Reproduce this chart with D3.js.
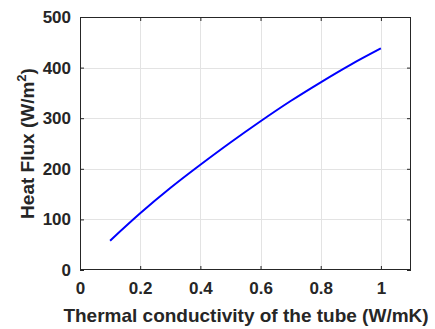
<!DOCTYPE html>
<html>
<head>
<meta charset="utf-8">
<script src="https://cdn.jsdelivr.net/npm/d3@7/dist/d3.min.js"></script>
<style>
  html, body { margin: 0; padding: 0; background: #fff; }
  svg { display: block; }
  text { font-family: "Liberation Sans", Arial, sans-serif; font-weight: bold; fill: #262626; }
</style>
</head>
<body>
<svg id="chart" width="435" height="329"></svg>
<script>
// Thermal conductivity of the tube (W/mK) vs. heat flux (W/m^2)
const conductivity = [0.1, 0.2, 0.3, 0.4, 0.5, 0.6, 0.7, 0.8, 0.9, 1.0];
const heatFlux     = [58, 112, 162, 208, 252, 294, 334, 371, 406, 438];
const xTicks = [0, 0.2, 0.4, 0.6, 0.8, 1];
const yTicks = [0, 100, 200, 300, 400, 500];

const svg = d3.select("#chart");
const margin = { left: 80, top: 17, right: 24, bottom: 59 };
const W = 435, H = 329;
const x = d3.scaleLinear().domain([0, 1.1]).range([margin.left, W - margin.right]);
const y = d3.scaleLinear().domain([0, 500]).range([H - margin.bottom, margin.top]);

const x0 = x.range()[0], x1 = x.range()[1];
const y0 = y.range()[0], y1 = y.range()[1];

// grid lines
const grid = svg.append("g").attr("stroke", "#e3e3e3").attr("stroke-width", 1);
grid.selectAll(".gx").data(xTicks.filter(d => d > 0)).join("line")
  .attr("x1", d => Math.round(x(d)) + 0.5).attr("x2", d => Math.round(x(d)) + 0.5)
  .attr("y1", y1).attr("y2", y0);
grid.selectAll(".gy").data(yTicks.filter(d => d > 0 && d < 500)).join("line")
  .attr("y1", d => Math.round(y(d)) + 0.5).attr("y2", d => Math.round(y(d)) + 0.5)
  .attr("x1", x0).attr("x2", x1);

// data line
const line = d3.line().x((d, i) => x(conductivity[i])).y(d => y(d)).curve(d3.curveNatural);
svg.append("path").datum(heatFlux)
  .attr("fill", "none").attr("stroke", "#0000ff").attr("stroke-width", 2)
  .attr("d", line);

// axes: ticks pointing inward, labels outside
const tickColor = "#262626";
const xAxis = d3.axisBottom(x).tickValues(xTicks).tickSizeInner(-4).tickSizeOuter(0).tickPadding(12)
  .tickFormat(d3.format("~g"));
const yAxis = d3.axisLeft(y).tickValues(yTicks).tickSizeInner(-4).tickSizeOuter(0).tickPadding(9);

const gx = svg.append("g").attr("transform", `translate(0,${y0})`).call(xAxis);
const gy = svg.append("g").attr("transform", `translate(${x0},0)`).call(yAxis);
[gx, gy].forEach(g => {
  g.select(".domain").remove();
  g.selectAll("line").attr("stroke", tickColor);
  g.selectAll("text").attr("font-size", "17px").attr("fill", tickColor)
    .attr("font-family", '"Liberation Sans", Arial, sans-serif').attr("font-weight", "bold");
});

// mirrored ticks on top and right edges
const gxTop = svg.append("g").attr("transform", `translate(0,${y1})`)
  .call(d3.axisTop(x).tickValues(xTicks).tickSizeInner(-4).tickSizeOuter(0).tickFormat(""));
const gyRight = svg.append("g").attr("transform", `translate(${x1},0)`)
  .call(d3.axisRight(y).tickValues(yTicks).tickSizeInner(-4).tickSizeOuter(0).tickFormat(""));
[gxTop, gyRight].forEach(g => { g.select(".domain").remove(); g.selectAll("line").attr("stroke", tickColor); });

// box
svg.append("rect").attr("x", x0 + 0.5).attr("y", y1 + 0.5)
  .attr("width", x1 - x0 - 1).attr("height", y0 - y1 - 1)
  .attr("fill", "none").attr("stroke", "#262626").attr("stroke-width", 1);

// axis labels
svg.append("text").attr("x", 246).attr("y", 322)
  .attr("text-anchor", "middle").attr("font-size", "19px")
  .text("Thermal conductivity of the tube (W/mK)");

const yl = svg.append("text")
  .attr("transform", `translate(34,${(y0 + y1) / 2}) rotate(-90)`)
  .attr("text-anchor", "middle").attr("font-size", "19px");
yl.append("tspan").text("Heat Flux (W/m");
yl.append("tspan").attr("dy", -8).attr("font-size", "13px").text("2");
yl.append("tspan").attr("dy", 8).text(")");
</script>
</body>
</html>
